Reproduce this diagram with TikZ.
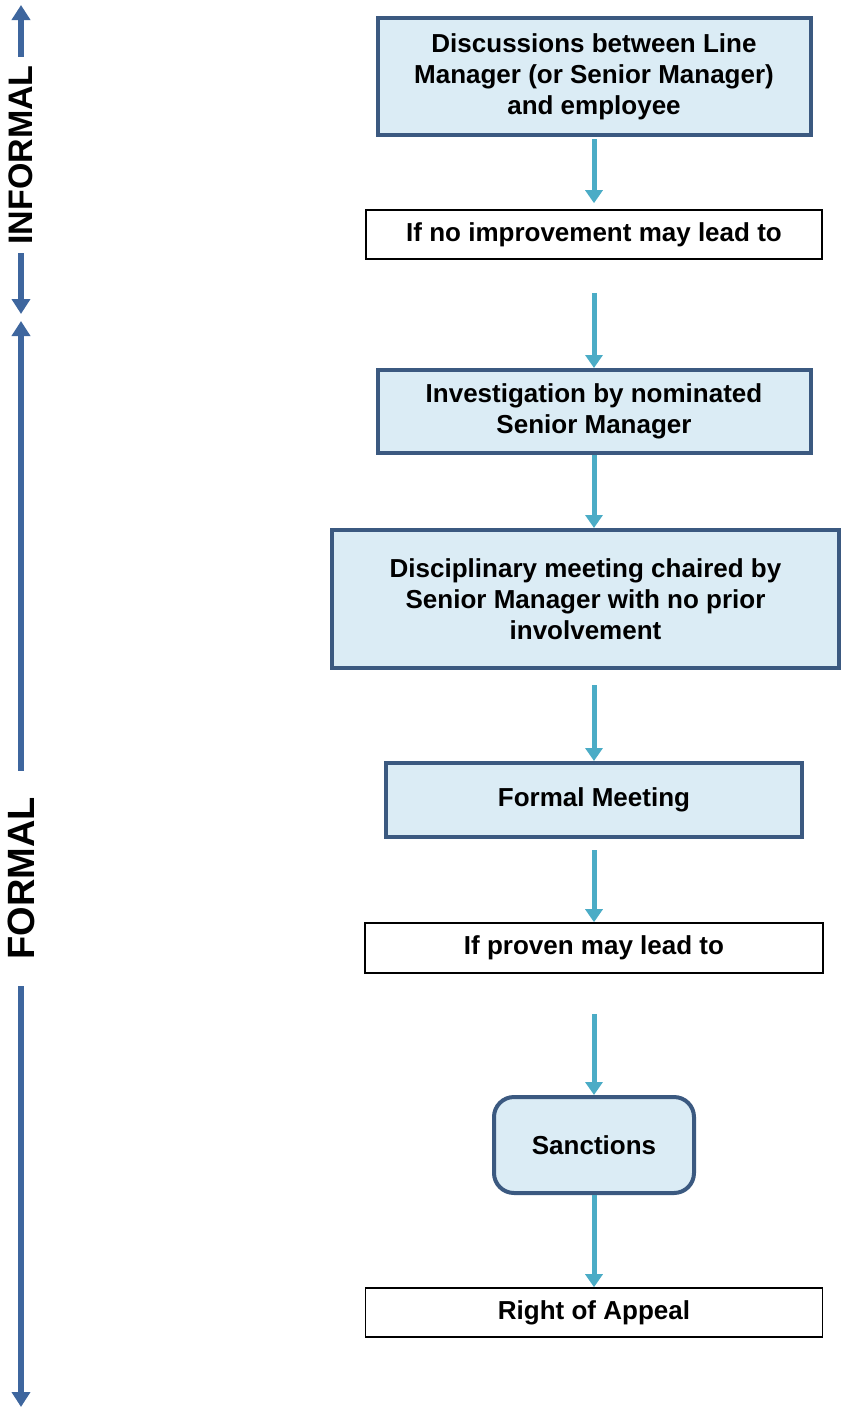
\documentclass[tikz,border=0pt]{standalone}
\usepackage{fontspec}
\setmainfont{Liberation Sans}
\usetikzlibrary{arrows.meta}
\definecolor{boxfill}{RGB}{219,236,245}
\definecolor{boxline}{RGB}{59,89,128}
\definecolor{flowcol}{RGB}{75,172,198}
\definecolor{spancol}{RGB}{62,102,158}
\begin{document}
\begin{tikzpicture}[x=0.5pt, y=-0.5pt,
  stage/.style={draw=boxline, fill=boxfill, line width=2pt, align=center, inner sep=0pt,
    font=\bfseries\fontsize{13}{15.5}\selectfont},
  cond/.style={draw=black, fill=white, line width=0.8pt, inner sep=0pt,
    font=\bfseries\fontsize{13}{15.5}\selectfont},
  flow/.style={-{Triangle[width=8.5pt,length=6.5pt]}, draw=flowcol, line width=2.5pt},
  span/.style={-{Triangle[width=9pt,length=7.5pt]}, draw=spancol, line width=3pt},
  phase/.style={rotate=90, inner ysep=0pt}]
\useasboundingbox (0,0) rectangle (841,1408);

% steps of the procedure
\node[stage, minimum width=216.5pt, minimum height=58.5pt] (disc) at (594,76.5)
  {Discussions between Line\\Manager (or Senior Manager)\\and employee};
\node[cond, minimum width=228pt, minimum height=24.5pt] (noimp) at (594,234.5) {If no improvement may lead to};
\node[stage, minimum width=216.5pt, minimum height=41.5pt] (invest) at (594,411.5)
  {Investigation by nominated\\Senior Manager};
\node[stage, minimum width=253.5pt, minimum height=69pt] (discip) at (585.5,599)
  {Disciplinary meeting chaired by\\Senior Manager with no prior\\involvement};
\node[stage, minimum width=208pt, minimum height=37pt] (formal) at (594,800) {Formal Meeting};
\node[cond, minimum width=229pt, minimum height=25pt] (proven) at (594,948) {If proven may lead to};
\node[stage, rounded corners=10pt, minimum width=100pt, minimum height=48pt] (sanct) at (594,1145) {Sanctions};
\node[cond, minimum width=228.5pt, minimum height=24.5pt] (appeal) at (594,1312.5) {Right of Appeal};

\draw[flow, shorten <=1pt, shorten >=3pt] (disc) -- (noimp);
\draw[flow, shorten <=16.5pt] (noimp) -- (invest);
\draw[flow] (invest) -- (invest |- discip.north);
\draw[flow, shorten <=7.5pt] (formal |- discip.south) -- (formal);
\draw[flow, shorten <=5.5pt] (formal) -- (proven);
\draw[flow, shorten <=20pt] (proven) -- (sanct);
\draw[flow] (sanct) -- (appeal);

% informal / formal spans
\node[phase, inner xsep=4pt, font=\bfseries\fontsize{17}{17}\selectfont] (inf) at (21,155) {INFORMAL};
\coordinate (inftop) at (21,5);
\coordinate (infbot) at (21,314);
\draw[span] (inf.east) -- (inftop);
\draw[span] (inf.west) -- (infbot);

\node[phase, inner xsep=13pt, font=\bfseries\fontsize{19}{19}\selectfont] (form) at (21,878.5) {FORMAL};
\coordinate (formtop) at (21,321);
\coordinate (formbot) at (21,1407);
\draw[span] (form.east) -- (formtop);
\draw[span] (form.west) -- (formbot);
\end{tikzpicture}
\end{document}
